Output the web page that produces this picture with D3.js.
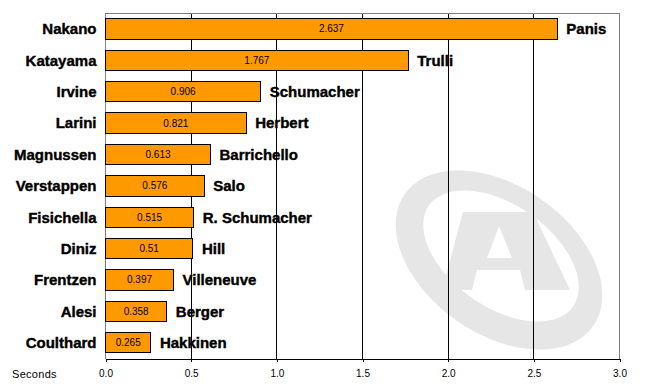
<!DOCTYPE html>
<html>
<head>
<meta charset="utf-8">
<script src="https://cdn.jsdelivr.net/npm/d3@7"></script>
<style>
  body { margin: 0; background: #fff; }
  text { font-family: Arial, "Liberation Sans", sans-serif; }
</style>
</head>
<body>
<div id="chart"></div>
<script>
var svgWidth = 657;
var svgHeight = 391;

// data
var leftDrivers = ["Nakano", "Katayama", "Irvine", "Larini", "Magnussen", "Verstappen",
    "Fisichella", "Diniz", "Frentzen", "Alesi", "Coulthard"];
var rightDrivers = ["Panis", "Trulli", "Schumacher", "Herbert", "Barrichello", "Salo",
    "R. Schumacher", "Hill", "Villeneuve", "Berger", "Hakkinen"];
var gaps = [2.637, 1.767, 0.906, 0.821, 0.613, 0.576, 0.515, 0.51, 0.397, 0.358, 0.265];
var xTicks = [0, 0.5, 1, 1.5, 2, 2.5, 3];

var margin = { top: 13, right: 37.5, bottom: 32.3, left: 105.5 };
var width = svgWidth - margin.left - margin.right;
var height = svgHeight - margin.top - margin.bottom;

var svg = d3.select("#chart")
    .append("svg")
    .attr("width", svgWidth)
    .attr("height", svgHeight);

// watermark logo in the background
var wm = svg.append("g").attr("fill", "#e6e6e6");
function ellipsePath(cx, cy, rx, ry, deg) {
    var a = deg * Math.PI / 180, pts = [];
    for (var i = 0; i <= 72; i++) {
        var t = i / 72 * 2 * Math.PI;
        var ex = rx * Math.cos(t), ey = ry * Math.sin(t);
        pts.push([cx + ex * Math.cos(a) - ey * Math.sin(a), cy + ex * Math.sin(a) + ey * Math.cos(a)]);
    }
    return "M" + pts.map(p => p.join(",")).join("L") + "Z";
}
wm.append("path")
    .attr("fill-rule", "evenodd")
    .attr("d", ellipsePath(499, 260, 115, 74, 35) + ellipsePath(501, 256, 88, 51, 35));
wm.append("path")
    .attr("fill-rule", "evenodd")
    .attr("d", "M463,212L533,212L570,290L525,290L520,270L477,270L472,290L442,290Z" +
        "M499,226L512,258L487,258Z");

var chartGroup = svg.append("g")
    .attr("transform", `translate(${margin.left}, ${margin.top})`);

var xScale = d3.scaleLinear().domain([0, 3]).range([0, width]);
var yScale = d3.scaleBand()
    .domain(leftDrivers)
    .range([0, height])
    .paddingInner(0.353)
    .paddingOuter(0.185);

// gridlines
chartGroup.append("g")
    .selectAll("line")
    .data(xTicks.slice(1, -1))
    .enter()
    .append("line")
    .attr("x1", d => xScale(d))
    .attr("x2", d => xScale(d))
    .attr("y1", 0)
    .attr("y2", height)
    .attr("stroke", "#000")
    .attr("shape-rendering", "crispEdges");

// frame: top, right, left in grey
chartGroup.append("path")
    .attr("d", `M0,${height}V0H${width}V${height}`)
    .attr("fill", "none")
    .attr("stroke", "#808080")
    .attr("shape-rendering", "crispEdges");

// bars
chartGroup.append("g")
    .selectAll("rect")
    .data(gaps)
    .enter()
    .append("rect")
    .attr("x", 0)
    .attr("y", (d, i) => yScale(leftDrivers[i]))
    .attr("width", d => xScale(d))
    .attr("height", yScale.bandwidth())
    .attr("fill", "#ff9900")
    .attr("stroke", "#000")
    .attr("shape-rendering", "crispEdges");

// values inside bars
chartGroup.append("g")
    .selectAll("text")
    .data(gaps)
    .enter()
    .append("text")
    .attr("x", d => xScale(d) / 2)
    .attr("y", (d, i) => yScale(leftDrivers[i]) + yScale.bandwidth() / 2)
    .attr("dy", "0.35em")
    .attr("text-anchor", "middle")
    .attr("font-size", "10px")
    .attr("fill", "#000")
    .text(d => String(d));

// left names
chartGroup.append("g")
    .selectAll("text")
    .data(leftDrivers)
    .enter()
    .append("text")
    .attr("x", -9)
    .attr("y", d => yScale(d) + yScale.bandwidth() / 2)
    .attr("dy", "0.36em")
    .attr("text-anchor", "end")
    .attr("font-size", "15px")
    .attr("font-weight", "bold")
    .attr("stroke", "#000")
    .attr("stroke-width", 0.4)
    .text(d => d);

// right names
chartGroup.append("g")
    .selectAll("text")
    .data(rightDrivers)
    .enter()
    .append("text")
    .attr("x", (d, i) => xScale(gaps[i]) + 9)
    .attr("y", (d, i) => yScale(leftDrivers[i]) + yScale.bandwidth() / 2)
    .attr("dy", "0.36em")
    .attr("font-size", "15px")
    .attr("font-weight", "bold")
    .attr("stroke", "#000")
    .attr("stroke-width", 0.4)
    .text(d => d);

// bottom axis
var bottomAxis = d3.axisBottom(xScale)
    .tickValues(xTicks)
    .tickFormat(d3.format(".1f"))
    .tickSizeInner(3)
    .tickSizeOuter(0)
    .tickPadding(8);
var xAxis = chartGroup.append("g")
    .attr("transform", `translate(0, ${height})`)
    .call(bottomAxis);
xAxis.select(".domain").attr("stroke", "#000").attr("shape-rendering", "crispEdges");
xAxis.selectAll(".tick line").attr("stroke", "#000").attr("shape-rendering", "crispEdges");
xAxis.selectAll("text")
    .attr("font-size", "10px")
    .attr("font-family", "Arial, 'Liberation Sans', sans-serif")
    .attr("fill", "#000");

svg.append("text")
    .attr("x", 12)
    .attr("y", 378)
    .attr("font-size", "11px")
    .attr("letter-spacing", "0.3px")
    .text("Seconds");
</script>
</body>
</html>
